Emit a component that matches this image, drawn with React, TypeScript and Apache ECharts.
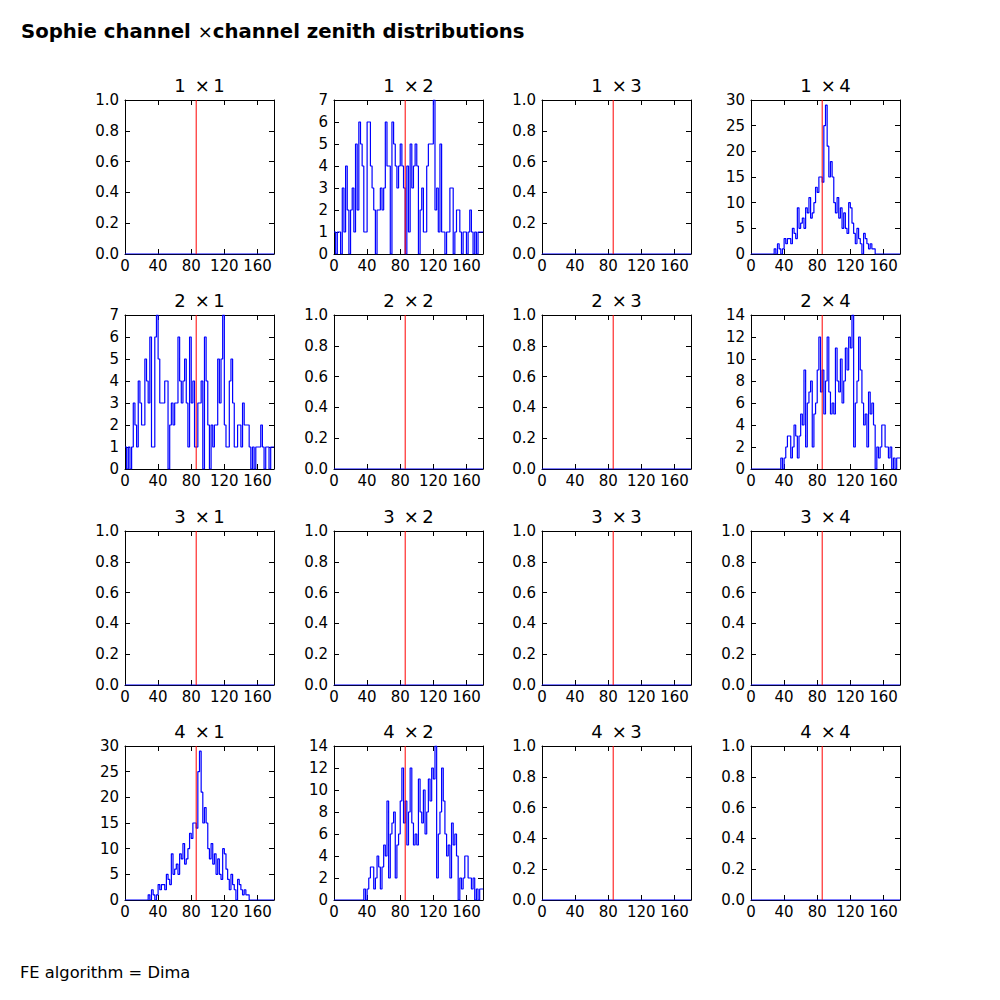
import React, { useEffect, useRef } from "react";
import * as echarts from "echarts";

// ---- data (2-degree bins, 0..180) ----
const X_TICKS_INTERVAL = 40;
const RED_LINE_X = 86;

// 1 x 2
const COUNTS_1_2: number[] = [
  1, 0, 1, 1, 0, 3, 1, 4, 2, 0,
  2, 3, 1, 5, 2, 6, 5, 4, 1, 1,
  6, 6, 4, 3, 2, 0, 2, 2, 3, 2,
  3, 6, 4, 4, 0, 6, 5, 4, 3, 4,
  5, 4, 3, 0, 4, 1, 5, 3, 4, 5,
  4, 0, 2, 3, 1, 1, 4, 5, 5, 5,
  7, 2, 3, 1, 5, 1, 1, 0, 1, 1,
  3, 3, 0, 1, 2, 2, 1, 0, 1, 1,
  0, 1, 2, 1, 0, 1, 0, 1, 1, 1,
];

// 2 x 1
const COUNTS_2_1: number[] = [
  1, 0, 1, 0, 1, 3, 2, 1, 4, 3,
  2, 2, 5, 4, 3, 6, 1, 1, 6, 7,
  5, 3, 3, 3, 4, 4, 0, 2, 3, 2,
  3, 3, 6, 4, 3, 4, 5, 3, 1, 6,
  3, 4, 1, 1, 3, 3, 4, 0, 6, 4,
  2, 0, 2, 1, 2, 2, 5, 3, 5, 7,
  2, 1, 1, 4, 5, 3, 1, 1, 2, 2,
  1, 3, 2, 2, 2, 1, 0, 1, 0, 1,
  1, 1, 2, 1, 0, 1, 1, 0, 1, 1,
];

// 1 x 4 (and 4 x 1)
const COUNTS_1_4: number[] = [
  0, 0, 0, 0, 0, 0, 0, 0, 0, 0,
  0, 0, 0, 0, 1, 0, 2, 1, 0, 1,
  3, 2, 3, 3, 2, 5, 4, 3, 9, 5,
  6, 7, 5, 9, 8, 11, 7, 8, 10, 13,
  12, 15, 15, 14, 25, 29, 21, 15, 18, 15,
  10, 8, 11, 7, 9, 5, 8, 5, 4, 10,
  9, 6, 4, 2, 5, 3, 2, 0, 4, 3,
  2, 1, 2, 1, 1, 0, 0, 0, 0, 0,
  0, 0, 0, 0, 0, 0, 0, 0, 0, 0,
];

// 2 x 4 (and 4 x 2)
const COUNTS_2_4: number[] = [
  0, 0, 0, 0, 0, 0, 0, 0, 0, 0,
  0, 0, 0, 0, 0, 0, 0, 0, 1, 0,
  1, 2, 3, 3, 1, 2, 4, 3, 1, 3,
  5, 4, 9, 2, 6, 7, 8, 2, 5, 6,
  9, 12, 7, 9, 5, 8, 12, 7, 5, 6,
  5, 11, 8, 7, 10, 6, 8, 11, 9, 12,
  11, 14, 2, 6, 8, 12, 9, 6, 4, 5,
  2, 7, 5, 6, 4, 0, 2, 1, 2, 4,
  4, 2, 2, 1, 2, 0, 1, 0, 1, 1,
];

const EMPTY_COUNTS: number[] = [0];

type Panel = { counts: number[]; ymax: number; yInterval: number; decimals: number };
const P12: Panel = { counts: COUNTS_1_2, ymax: 7, yInterval: 1, decimals: 0 };
const P21: Panel = { counts: COUNTS_2_1, ymax: 7, yInterval: 1, decimals: 0 };
const P14: Panel = { counts: COUNTS_1_4, ymax: 30, yInterval: 5, decimals: 0 };
const P24: Panel = { counts: COUNTS_2_4, ymax: 14, yInterval: 2, decimals: 0 };
const PE: Panel = { counts: EMPTY_COUNTS, ymax: 1, yInterval: 0.2, decimals: 1 };

const PANELS: Panel[][] = [
  [PE, P12, PE, P14],
  [P21, PE, PE, P24],
  [PE, PE, PE, PE],
  [P14, P24, PE, PE],
];

const MAIN_TITLE_A = "Sophie channel ";
const MAIN_TITLE_X = "×";
const MAIN_TITLE_B = "channel zenith distributions";
const FOOTER = "FE algorithm = Dima";

// ---- layout ----
const COL_LEFT = [125, 334, 542, 751];
const ROW_TOP = [100, 315, 531, 746];
const PW = 149;
const PH = 154;
const FONT = "DejaVu Sans";

function histPoints(counts: number[]): number[][] {
  const w = 180 / counts.length;
  const pts = counts.map((v, i) => [i * w, v]);
  pts.push([180, counts[counts.length - 1]]);
  return pts;
}

function buildOption() {
  const grid: any[] = [];
  const xAxis: any[] = [];
  const yAxis: any[] = [];
  const series: any[] = [];
  const graphic: any[] = [];
  let gi = 0;
  for (let r = 0; r < 4; r++) {
    for (let c = 0; c < 4; c++) {
      const p = PANELS[r][c];
      grid.push({ left: COL_LEFT[c], top: ROW_TOP[r], width: PW, height: PH, containLabel: false });
      const tick = { show: true, inside: true, length: 5, lineStyle: { color: "#000", width: 1 } };
      const line = { show: true, onZero: false, lineStyle: { color: "#000", width: 1 } };
      xAxis.push({
        gridIndex: gi, type: "value", position: "bottom", min: 0, max: 180, interval: X_TICKS_INTERVAL,
        axisLine: line, axisTick: tick, splitLine: { show: false },
        axisLabel: { show: true, margin: 4, fontSize: 15, color: "#000", fontFamily: FONT, showMaxLabel: false },
      });
      xAxis.push({
        gridIndex: gi, type: "value", position: "top", min: 0, max: 180, interval: X_TICKS_INTERVAL,
        axisLine: line, axisTick: tick, splitLine: { show: false }, axisLabel: { show: false },
      });
      yAxis.push({
        gridIndex: gi, type: "value", position: "left", min: 0, max: p.ymax, interval: p.yInterval,
        axisLine: line, axisTick: tick, splitLine: { show: false },
        axisLabel: {
          show: true, margin: 6, fontSize: 15, color: "#000", fontFamily: FONT,
          formatter: (v: number) => v.toFixed(p.decimals),
        },
      });
      yAxis.push({
        gridIndex: gi, type: "value", position: "right", min: 0, max: p.ymax, interval: p.yInterval,
        axisLine: line, axisTick: tick, splitLine: { show: false }, axisLabel: { show: false },
      });
      series.push({
        type: "line", xAxisIndex: 2 * gi, yAxisIndex: 2 * gi, data: histPoints(p.counts),
        step: "end", symbol: "none", lineStyle: { color: "#0000ff", width: 1.2 }, itemStyle: { color: "#0000ff" },
        silent: true, z: 2,
      });
      series.push({
        type: "line", xAxisIndex: 2 * gi, yAxisIndex: 2 * gi, data: [[RED_LINE_X, 0], [RED_LINE_X, p.ymax]],
        symbol: "none", lineStyle: { color: "#ff0000", width: 1 }, itemStyle: { color: "#ff0000" },
        silent: true, z: 3,
      });
      graphic.push({
        type: "text", x: COL_LEFT[c] + PW / 2, y: ROW_TOP[r] - 15,
        style: {
          text: `${r + 1}\u2002×\u2009${c + 1}`, align: "center", verticalAlign: "middle",
          fontSize: 18, fontFamily: FONT, fill: "#000",
        },
      });
      gi++;
    }
  }
  graphic.push({
    type: "text", x: 21, y: 31,
    style: {
      text: `{b|${MAIN_TITLE_A}}{x|${MAIN_TITLE_X}}{b|${MAIN_TITLE_B}}`,
      verticalAlign: "middle",
      rich: {
        b: { fontSize: 19.7, fontWeight: "bold", fontFamily: FONT, fill: "#000", color: "#000" },
        x: { fontSize: 18, fontWeight: "normal", fontFamily: FONT, fill: "#000", color: "#000" },
      },
    },
  });
  graphic.push({
    type: "text", x: 20, y: 972,
    style: { text: FOOTER, fontSize: 16.3, fontFamily: FONT, fill: "#000", verticalAlign: "middle" },
  });
  return { animation: false, backgroundColor: "#fff", grid, xAxis, yAxis, series, graphic };
}

export default function App() {
  const ref = useRef<HTMLDivElement>(null);
  useEffect(() => {
    if (!ref.current) return;
    const chart = echarts.init(ref.current, undefined, { renderer: "svg" });
    chart.setOption(buildOption() as any);
    return () => chart.dispose();
  }, []);
  return (
    <div
      ref={ref}
      style={{ position: "absolute", left: 0, top: 0, width: 1000, height: 1000, background: "#fff" }}
    />
  );
}
